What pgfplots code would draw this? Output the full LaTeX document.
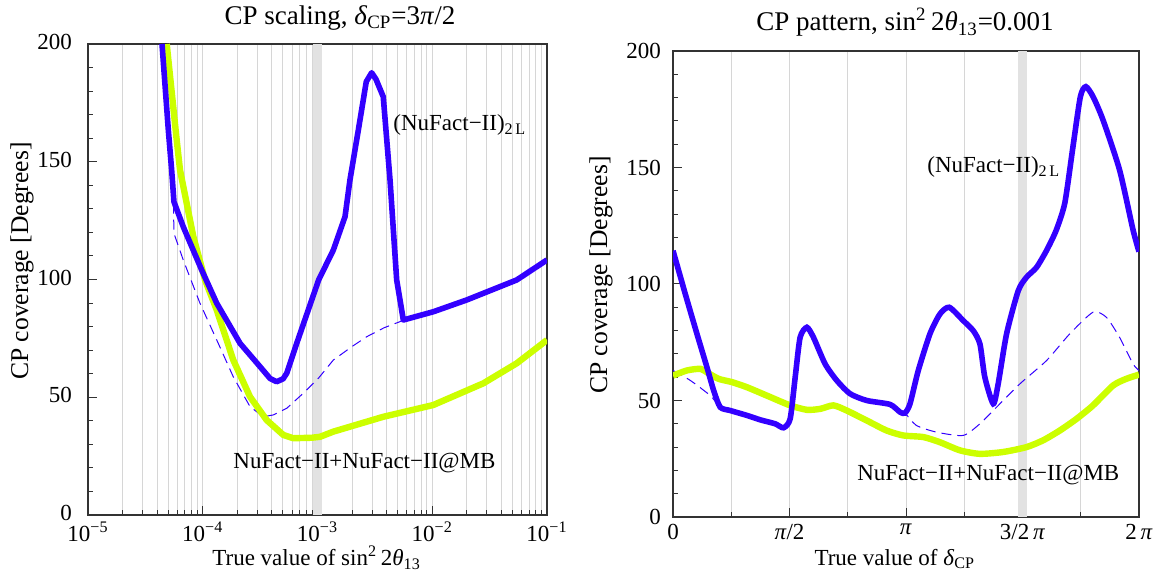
\documentclass[border=0pt]{standalone}
\usepackage{fontspec}
\setmainfont{Liberation Serif}
\usepackage{pgfplots}
\pgfplotsset{compat=1.18}
\definecolor{nfblue}{RGB}{51,0,255}
\definecolor{nfyel}{RGB}{204,255,0}
\definecolor{gridg}{RGB}{214,214,214}
\definecolor{bandg}{RGB}{226,226,226}
\newcommand{\fs}{\fontsize{11.5}{13}\selectfont}
\newcommand{\fl}{\fontsize{12.8}{14}\selectfont}
\newcommand{\ft}{\fontsize{13.5}{15}\selectfont}
\begin{document}
\begin{tikzpicture}[font=\fs]
\useasboundingbox (0,0) rectangle (578pt,285.5pt);
\pgfplotsset{
  mystyle/.style={
    scale only axis,
    axis line style={black!80, line width=0.6pt},
    tick style={black!80, line width=0.5pt},
    tick align=inside,
    major tick length=4.5pt,
    minor tick length=2.5pt,
    ymin=0, ymax=200,
    ytick={0,50,...,200},
    minor ytick={10,20,30,40,60,70,80,90,110,120,130,140,160,170,180,190},
    ytick pos=left, xtick pos=bottom,
    /pgf/number format/assume math mode=true,
    ticklabel style={font=\fs},
    xlabel style={font=\fs},
    ylabel style={font=\fl},
    title style={font=\ft, yshift=-6pt},
    xmajorgrids, xminorgrids,
    major grid style={gridg, line width=0.5pt},
    minor grid style={gridg, line width=0.5pt},
    ylabel={CP coverage [Degrees]},
  }
}
% ---------------- left: CP scaling ----------------
\begin{axis}[mystyle, at={(44pt,28pt)}, anchor=south west,
  width=229.5pt, height=235.5pt,
  xmin=-5, xmax=-1, xtick={-5,-4,-3,-2,-1},
  xticklabels={10\textsuperscript{−5},10\textsuperscript{−4},10\textsuperscript{−3},10\textsuperscript{−2},10\textsuperscript{−1}},
  minor xtick={-4.699,-4.523,-4.398,-4.301,-4.222,-4.155,-4.097,-4.046,
               -3.699,-3.523,-3.398,-3.301,-3.222,-3.155,-3.097,-3.046,
               -2.699,-2.523,-2.398,-2.301,-2.222,-2.155,-2.097,-2.046,
               -1.699,-1.523,-1.398,-1.301,-1.222,-1.155,-1.097,-1.046},
  yticklabel style={xshift=-4.5pt, yshift=1pt},
  title={CP scaling, \textit{δ}\textsubscript{CP}=3\textit{π}/2},
  title style={at={(axis description cs:0.549,1.055)}, anchor=center},
  xlabel={True value of sin\textsuperscript{2}\,2\textit{θ}\textsubscript{13}},
  xlabel style={at={(axis description cs:0.498,-0.091)}, anchor=center},
  ylabel style={at={(axis description cs:-0.144,0.539)}, anchor=center},
]
\addplot[fill=bandg, draw=none] coordinates {(-3.036,200) (-2.964,200)} \closedcycle;
% dashed
\addplot[nfblue, line width=0.5pt, dash pattern=on 5pt off 3pt] coordinates {
(-4.355,200) (-4.30,163.5) (-4.271,146.5) (-4.256,134) (-4.251,119.6) (-4.17,108.3)
(-4.024,89.9) (-3.878,74.3) (-3.734,58.7) (-3.588,46.0) (-3.472,41.7) (-3.385,42.5)
(-3.268,45.3) (-3.124,51.7) (-2.993,58.0) (-2.862,65.8) (-2.70,71.5) (-2.571,75.7)
(-2.42,79.5) (-2.281,82.1) (-2.252,82.8)};
% yellow
\addplot[nfyel, line width=3.2pt, line join=round] coordinates {
(-4.314,200) (-4.227,159.2) (-4.198,146.5) (-4.082,118.2) (-3.98,99.8) (-3.878,87.0)
(-3.734,65.8) (-3.588,50.2) (-3.443,40.3) (-3.298,34.0) (-3.211,32.6) (-3.05,32.8)
(-2.978,33.2) (-2.862,35.4) (-2.427,41.7) (-1.991,46.7) (-1.555,55.9) (-1.264,64.4) (-1.0,74.3)};
% blue
\addplot[nfblue, line width=2.8pt, line join=round] coordinates {
(-4.355,200) (-4.30,163.5) (-4.271,146.5) (-4.251,133.0) (-4.170,122.4) (-4.009,104.0)
(-3.878,89.9) (-3.675,72.9) (-3.501,63.0) (-3.414,58.0) (-3.356,56.6) (-3.30,57.8) (-3.268,60.2)
(-3.181,72.9) (-2.99,99.8) (-2.862,112.5) (-2.760,126.7) (-2.717,142.3) (-2.644,163.5)
(-2.575,184) (-2.528,187.8) (-2.49,185) (-2.427,177.6) (-2.368,142.3) (-2.31,99.8) (-2.252,82.8)
(-1.991,86.3) (-1.70,91.3) (-1.264,99.8) (-1.0,108.3)};
\node[anchor=west, inner sep=0pt] at (axis cs:-2.342,165.6) {(NuFact−II)\textsubscript{2\,L}};
\node[anchor=west, inner sep=0pt] at (axis cs:-3.736,22.1) {NuFact−II+NuFact−II@MB};
\end{axis}
% ---------------- right: CP pattern ----------------
\begin{axis}[mystyle, at={(336.5pt,27pt)}, anchor=south west,
  width=233pt, height=233pt,
  xmin=0, xmax=360, xtick={0,90,180,270,360},
  xticklabels={0,\textit{π}/2,\textit{π},3/2\,\textit{π},2\,\textit{π}},
  minor xtick={45,135,225,315},
  yticklabel style={xshift=-2.5pt},
  title={CP pattern, sin\textsuperscript{2}\,2\textit{θ}\textsubscript{13}=0.001},
  title style={at={(axis description cs:0.498,1.062)}, anchor=center},
  xlabel={True value of \textit{δ}\textsubscript{CP}},
  xlabel style={at={(axis description cs:0.476,-0.090)}, anchor=center},
  ylabel style={at={(axis description cs:-0.1545,0.519)}, anchor=center},
]
\addplot[fill=bandg, draw=none] coordinates {(266.8,200) (273.2,200)} \closedcycle;
\addplot[nfblue, line width=0.5pt, dash pattern=on 5pt off 3pt, smooth, tension=0.4] coordinates {
(0,62.9) (13.4,58.6) (28.8,52.1) (36.5,47.1) (44.2,45.7) (57.1,43.6) (67.4,41.7) (78.9,40)
(85.4,38.3) (90.5,42.1) (94.4,60) (98.2,77.1) (103.4,81.4) (108.5,77.1) (117.5,65.7)
(126.5,58.6) (136.8,52.9) (149.7,50) (167.7,48.3) (175.4,45) (179.2,44.6)
(188,39.3) (203.7,36.4) (224.2,35) (237.1,40) (247.4,45.7) (267.9,57.1) (288.5,67.1)
(306.5,78.6) (324.5,87.9) (334.8,85.7) (345,77.1) (355.4,65.7) (360,62.9)};
\addplot[nfyel, line width=3.2pt, smooth, tension=0.4] coordinates {
(0,60.7) (10.8,62.9) (21.1,63.6) (26.2,62.1) (35.2,59.3) (45.5,57.9) (57.1,55.7) (72.5,52.1)
(90.5,47.9) (103.4,46) (113.7,46.4) (123.9,47.9) (134.2,45.7) (149.7,41.4) (165.1,37.1)
(177.9,35) (193.4,34.3) (206.2,32.1) (221.7,28.6) (237.1,27.1) (255.1,27.9) (273.1,30)
(285.9,32.9) (298.8,37.1) (311.7,42.1) (324.5,47.9) (339.9,56.4) (350.2,59.3) (360,61.1)};
\addplot[nfblue, line width=2.8pt, smooth, tension=0.4] coordinates {
(0,114.3) (9.5,95.7) (18.5,78.6) (26.2,64.3) (31.4,54.3) (36.5,47.1) (44.2,45.7) (57.1,43.6)
(67.4,41.7) (78.9,40) (85.4,38.3) (90.5,42.1) (94.4,60) (98.2,77.1) (103.4,81.4) (108.5,77.1)
(117.5,65.7) (126.5,58.6) (136.8,52.9) (149.7,50) (167.7,48.3) (175.4,45) (179.2,44.6)
(183.1,48.6) (189.5,62.9) (198.5,78.6) (206.2,87.1) (213.4,90) (224.2,84.3) (231.9,80)
(237.1,74.3) (240.9,60) (247.4,48.6) (251.2,57.1) (257.7,78.6) (266.7,97.1) (273.1,102.9)
(280.8,107.1) (288.5,114.3) (296,123) (302.7,134.8) (309,159) (314.7,180.4) (318.9,184.7)
(324.5,180.4) (332.2,170.4) (345,148.9) (355.4,123.2) (360,113.9)};
\node[anchor=west, inner sep=0pt] at (axis cs:196.2,150.2) {(NuFact−II)\textsubscript{2\,L}};
\node[anchor=west, inner sep=0pt] at (axis cs:142.1,18.0) {NuFact−II+NuFact−II@MB};
\end{axis}
\end{tikzpicture}
\end{document}
